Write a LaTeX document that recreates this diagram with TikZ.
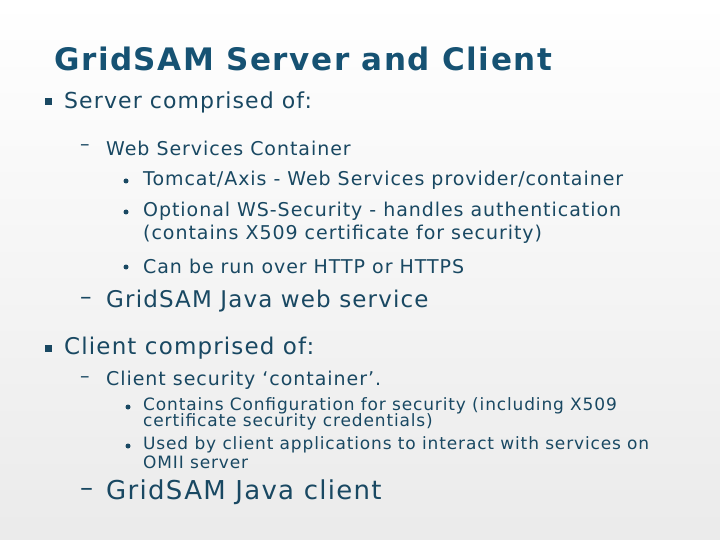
\documentclass[tikz,border=0pt]{standalone}
\usepackage{fontspec}
\setmainfont[LetterSpace=5]{DejaVu Sans}
\definecolor{ttl}{RGB}{22,82,115}
\definecolor{txt}{RGB}{25,72,98}
\begin{document}
\begin{tikzpicture}[x=1pt,y=-1pt,
  t/.style={anchor=west,inner sep=0pt,text=txt},
  sq/.style={fill=txt,minimum size=7pt,inner sep=0pt},
  dot/.style={circle,fill=txt,minimum size=5pt,inner sep=0pt}]
\shade[top color=white,bottom color=black!8] (0,0) rectangle (720,540);
\useasboundingbox (0,0) rectangle (720,540);
\node[t,text=ttl,font=\fontsize{31}{34}\selectfont\bfseries] (title) at (54,59) {GridSAM Server and Client};
\node[sq] (b1) at (48,102) {};
\node[t,font=\fontsize{22}{25}\selectfont] (l1) at (64,102) {Server comprised of:};
\node[t,font=\fontsize{19}{22}\selectfont] (d1) at (80,148) {–};
\node[t,font=\fontsize{19}{22}\selectfont] (l2) at (106,148) {Web Services Container};
\node[dot] (c1) at (126,181) {};
\node[t,font=\fontsize{19}{22}\selectfont] (l3) at (143,180) {Tomcat/Axis - Web Services provider/container};
\node[dot] (c2) at (126,212) {};
\node[t,font=\fontsize{19}{22}\selectfont] (l4) at (143,211) {Optional WS-Security - handles authentication};
\node[t,font=\fontsize{19}{22}\selectfont] (l5) at (143,234) {(contains X509 certificate for security)};
\node[dot] (c3) at (126,267) {};
\node[t,font=\fontsize{19}{22}\selectfont] (l6) at (143,266) {Can be run over HTTP or HTTPS};
\node[t,font=\fontsize{23}{26}\selectfont] (d2) at (80,301) {–};
\node[t,font=\fontsize{23}{26}\selectfont] (l7) at (106,301) {GridSAM Java web service};
\node[sq] (b2) at (48,348) {};
\node[t,font=\fontsize{23}{26}\selectfont] (l8) at (64,348) {Client comprised of:};
\node[t,font=\fontsize{19}{22}\selectfont] (d3) at (80,380) {–};
\node[t,font=\fontsize{19}{22}\selectfont] (l9) at (106,380) {Client security ‘container’.};
\node[dot] (c4) at (128,407) {};
\node[t,font=\fontsize{17}{18}\selectfont] (l10) at (143,406) {Contains Configuration for security (including X509};
\node[t,font=\fontsize{17}{18}\selectfont] (l11) at (143,422) {certificate security credentials)};
\node[dot] (c5) at (128,446) {};
\node[t,font=\fontsize{17}{18}\selectfont] (l12) at (143,445) {Used by client applications to interact with services on};
\node[t,font=\fontsize{17}{18}\selectfont] (l13) at (143,462) {OMII server};
\node[t,font=\fontsize{26}{30}\selectfont] (d4) at (80,492) {–};
\node[t,font=\fontsize{26}{30}\selectfont] (l14) at (106,492) {GridSAM Java client};
\end{tikzpicture}
\end{document}
